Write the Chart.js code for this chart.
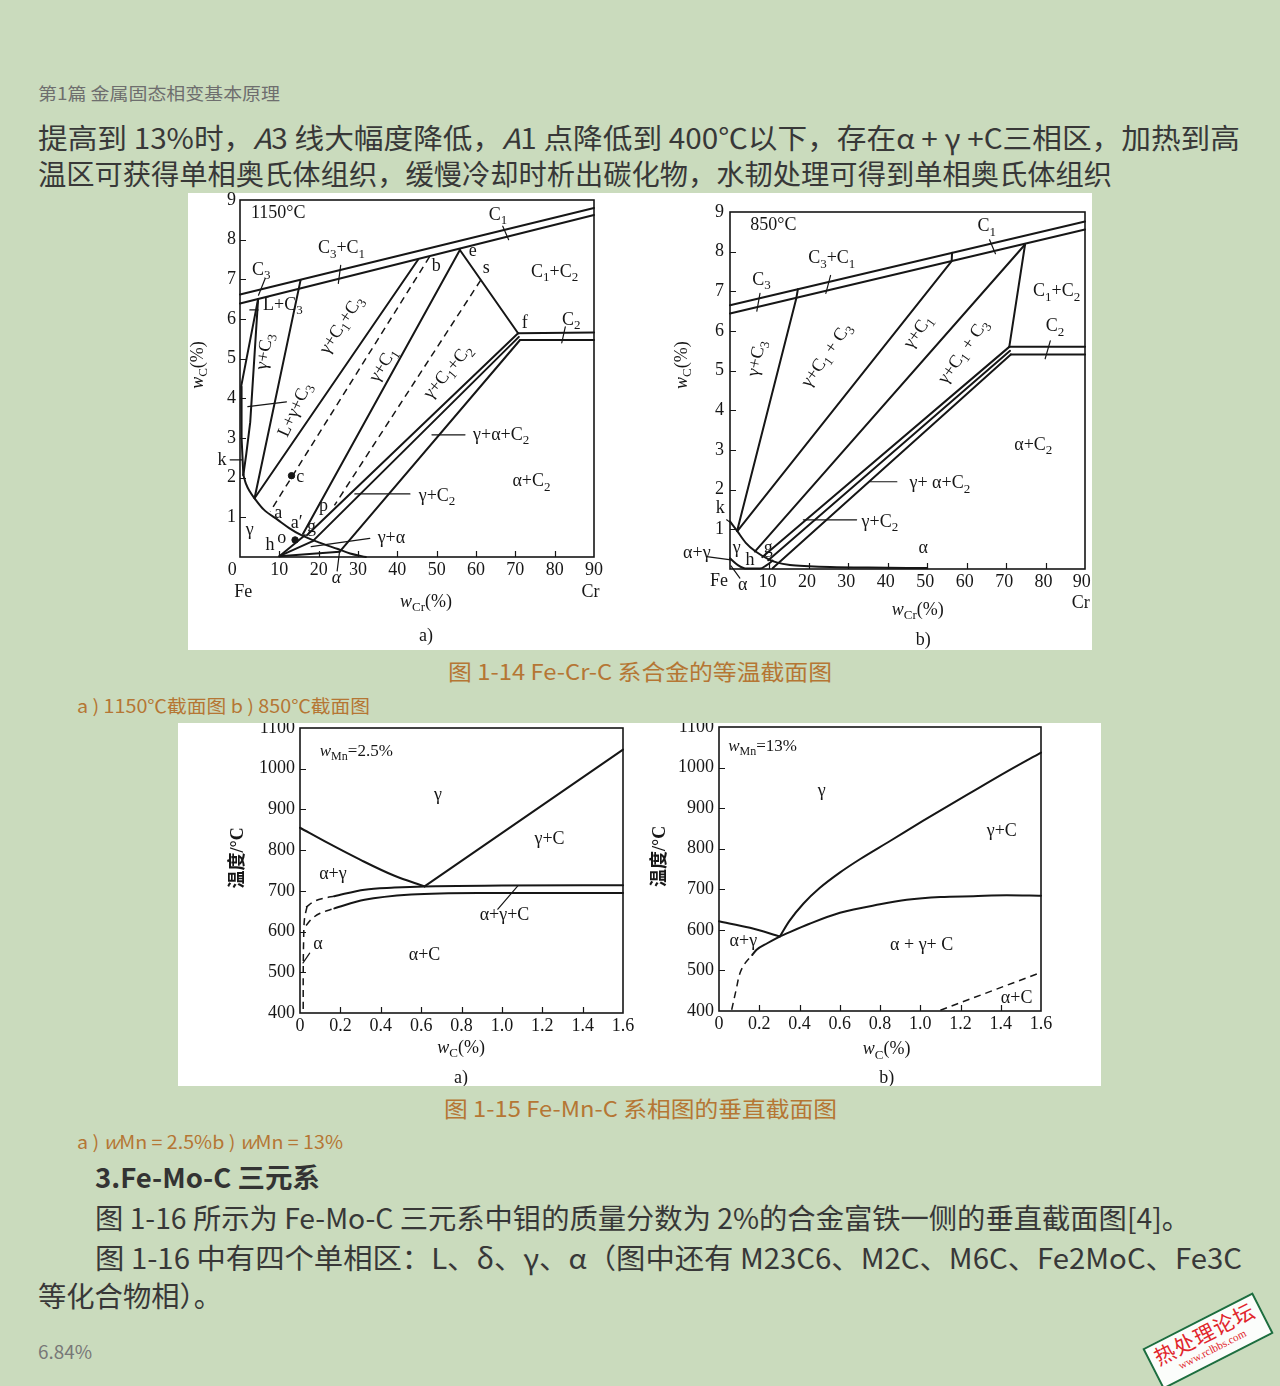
<!DOCTYPE html>
<html lang="zh">
<head>
  <meta charset="UTF-8" />
  <title>Fe-Cr-C / Fe-Mn-C 相图</title>
  <script src="https://cdn.jsdelivr.net/npm/chart.js"></script>
  <style>
    body {
      margin: 0;
      width: 1280px;
      height: 1386px;
      position: relative;
      overflow: hidden;
      background: #cadbbd;
      font-family: "Noto Sans CJK SC", "Noto Sans", sans-serif;
    }
    .t {
      position: absolute;
      white-space: nowrap;
      line-height: 1;
      transform-origin: 0 50%;
    }
    .body { color: #383838; font-size: 28px; }
    .cap { color: #b57634; }
    .panel { position: absolute; background: #fff; }
    canvas { position: absolute; }
    #stamp {
      position: absolute;
      left: 1146px;
      top: 1318px;
      width: 120px;
      height: 42px;
      border: 2px solid #1d6e3e;
      background: #fbfdfb;
      transform: rotate(-27deg);
      color: #e1262c;
      text-align: center;
      line-height: 1;
    }
    #stamp .s1 { font-size: 21px; margin-top: 2px; letter-spacing: 1px; }
    #stamp .s2 { font-size: 11px; font-family: "Liberation Serif", serif; margin-top: 2px; }
  </style>
</head>
<body>

  <div class="t" style="left:38px; top:84px; font-size:17px; color:#6e6e6e;" data-w="242">第1篇 金属固态相变基本原理</div>
  <div class="t body" style="left:38px; top:123px;" data-w="1202">提高到 13%时，<i>A</i>3 线大幅度降低，<i>A</i>1 点降低到 400℃以下，存在α + γ +C三相区，加热到高</div>
  <div class="t body" style="left:38px; top:159px;" data-w="1074">温区可获得单相奥氏体组织，缓慢冷却时析出碳化物，水韧处理可得到单相奥氏体组织</div>

  <div class="panel" style="left:188px; top:193px; width:904px; height:457px;"></div>
  <canvas id="chartA" width="452" height="461" style="left:188px; top:189px;"></canvas>
  <canvas id="chartB" width="452" height="455" style="left:640px; top:195px;"></canvas>

  <div class="t cap" style="left:448px; top:659px; font-size:22px;" data-w="384">图 1-14 Fe-Cr-C 系合金的等温截面图</div>
  <div class="t cap" style="left:77px; top:696px; font-size:18px;" data-w="293">a ) 1150℃截面图 b ) 850℃截面图</div>

  <div class="panel" style="left:178px; top:723px; width:923px; height:363px;"></div>
  <canvas id="chartC" width="462" height="363" style="left:178px; top:723px;"></canvas>
  <canvas id="chartD" width="461" height="363" style="left:640px; top:723px;"></canvas>

  <div class="t cap" style="left:444px; top:1096px; font-size:22px;" data-w="393">图 1-15 Fe-Mn-C 系相图的垂直截面图</div>
  <div class="t cap" style="left:77px; top:1132px; font-size:18px;" data-w="266">a ) <i>w</i>Mn = 2.5%b ) <i>w</i>Mn = 13%</div>

  <div class="t" style="left:95px; top:1163px; font-size:27px; font-weight:700; color:#333;" data-w="225">3.Fe-Mo-C 三元系</div>
  <div class="t body" style="left:95px; top:1203px;" data-w="1095">图 1-16 所示为 Fe-Mo-C 三元系中钼的质量分数为 2%的合金富铁一侧的垂直截面图[4]。</div>
  <div class="t body" style="left:95px; top:1243px;" data-w="1147">图 1-16 中有四个单相区：L、δ、γ、α（图中还有 M23C6、M2C、M6C、Fe2MoC、Fe3C</div>
  <div class="t body" style="left:38px; top:1281px;" data-w="184">等化合物相）。</div>

  <div class="t" style="left:38px; top:1342px; font-size:18px; color:#777;" data-w="54">6.84%</div>

  <div id="stamp"><div class="s1">热处理论坛</div><div class="s2">www.rclbbs.com</div></div>

  <script>
    const INK = "#161616";
    const SERIF = '"Liberation Serif", "DejaVu Serif", "Noto Sans CJK SC", serif';

    // ---- Fe-Cr-C, 1150 °C (x = wCr %, y = wC %) ----
    const crMarksX = [10, 20, 30, 40, 50, 60, 70, 80];
    const crMarksY = [1, 2, 3, 4, 5, 6, 7, 8];
    const crLabelValsA = [-2, 10, 20, 30, 40, 50, 60, 70, 80, 90];
    const crLabelsA = ["0", "10", "20", "30", "40", "50", "60", "70", "80", "90"];
    const crLabelValsB = [9.5, 19.5, 29.5, 39.5, 49.5, 59.5, 69.5, 79.5, 89.2];
    const crLabelsB = ["10", "20", "30", "40", "50", "60", "70", "80", "90"];
    const crValsY = [1, 2, 3, 4, 5, 6, 7, 8, 9];
    const crLabelsY = ["1", "2", "3", "4", "5", "6", "7", "8", "9"];

    const a1150BandUpper = [[0, 6.62], [90, 8.8]];
    const a1150BandLower = [[0, 6.39], [90, 8.62]];
    const a1150LiqA = [[4.6, 6.5], [0.3, 4.3], [0.4, 3.0], [0.85, 2.07]];
    const a1150LiqB = [[4.6, 6.5], [2.6, 3.4], [1.6, 2.6], [0.85, 2.07]];
    const a1150Gamma = [[0.85, 2.07], [1.5, 1.85], [2.5, 1.65], [3.7, 1.48], [6, 1.2], [9.7, 0.93], [12.5, 0.73], [15.6, 0.55], [20, 0.37], [24.9, 0.2], [28, 0.09], [32, 0]];
    const a1150C3 = [[15.4, 6.98], [3.7, 1.48]];
    const a1150C1C3 = [[45.3, 7.5], [3.7, 1.48]];
    const a1150E = [[55.9, 7.74], [16, 0.58]];
    const a1150EF = [[55.9, 7.74], [70.7, 5.64]];
    const a1150C2Upper = [[70.7, 5.64], [90, 5.66]];
    const a1150C2Lower = [[71.2, 5.47], [90, 5.47]];
    const a1150F1 = [[70.7, 5.64], [17, 0.55]];
    const a1150F2 = [[70.9, 5.55], [18.5, 0.4]];
    const a1150F3 = [[71.2, 5.47], [25.3, 0.13]];
    const a1150H1 = [[16.5, 0.55], [10, 0.02], [25.3, 0.13]];
    const a1150H2 = [[10, 0.02], [18.5, 0.4]];
    const a1150DashB = [[48.2, 7.57], [7.7, 1.15]];
    const a1150DashS = [[61.2, 6.98], [24, 1.3]];
    const a1150Dots = [[13.1, 2.05], [14.0, 0.43]];
    const a1150Leaders = [
      [[6.4, 7.02], [4.7, 6.6]],
      [[25.6, 7.35], [25.0, 6.9]],
      [[66.8, 8.34], [68.3, 8.0]],
      [[82.7, 5.8], [81.8, 5.4]],
      [[2.5, 6.23], [4.6, 6.23]],
      [[2.0, 3.79], [11.8, 3.91]],
      [[-2.5, 2.45], [0.6, 2.45]],
      [[29.2, 1.59], [43.2, 1.59]],
      [[48.8, 3.08], [57.2, 3.08]],
      [[33.0, 0.47], [18.1, 0.26]],
      [[25.3, 0.13], [24.7, -0.35]]
    ];
    const a1150Notes = [
      ["1150°C", 9.7, 8.66], ["C_1", 65.6, 8.62], ["C_3+C_1", 25.8, 7.78], ["C_3", 5.4, 7.23],
      ["C_1+C_2", 80.0, 7.19], ["b", 49.9, 7.32], ["e", 59.2, 7.70], ["s", 62.6, 7.28],
      ["f", 72.4, 5.89], ["C_2", 84.2, 5.97], ["L+C_3", 10.9, 6.35],
      ["γ+C_3", 6.3, 5.18, -80], ["γ+C_1+C_3", 25.8, 5.85, -57], ["γ+C_1", 36.4, 4.84, -58],
      ["γ+C_1+C_2", 52.9, 4.67, -50], ["L+γ+C_3", 14.0, 3.71, -65],
      ["k", -4.6, 2.45], ["c", 15.3, 2.02], ["a", 9.7, 1.10], ["a′", 14.4, 0.85], ["g", 18.2, 0.76],
      ["p", 21.2, 1.27], ["γ", 2.5, 0.68], ["h", 7.6, 0.30], ["o", 10.6, 0.47],
      ["γ+α", 38.5, 0.47], ["γ+C_2", 50.1, 1.54], ["γ+α+C_2", 66.4, 3.08], ["α+C_2", 74.1, 1.90],
      ["*α*", 24.5, -0.53], ["Fe", 0.8, -0.88], ["Cr", 89.1, -0.88],
      ["*w*_{Cr}(%)", 47.3, -1.13], ["a)", 47.3, -2.0], ["*w*_C(%)", -10.6, 4.84, -90]
    ];

    // ---- Fe-Cr-C, 850 °C ----
    const b850BandUpper = [[0, 6.65], [90, 8.76]];
    const b850BandLower = [[0, 6.44], [90, 8.56]];
    const b850C3 = [[17.2, 7.05], [16.8, 6.82], [1.8, 0.96]];
    const b850C1C3 = [[56.3, 7.97], [56.2, 7.76], [1.9, 0.96]];
    const b850GammaC1 = [[74.8, 8.18], [6.3, 0.44]];
    const b850Corner = [[74.8, 8.18], [70.8, 5.6]];
    const b850C2Upper = [[70.8, 5.6], [90, 5.6]];
    const b850C2Lower = [[71.2, 5.41], [90, 5.41]];
    const b850F1 = [[70.8, 5.6], [8.2, 0.3]];
    const b850F2 = [[71.0, 5.5], [9.7, 0.22]];
    const b850F3 = [[71.2, 5.41], [10.8, 0.02]];
    const b850Gamma = [[0, 1.2], [1.8, 0.96], [4, 0.66], [6.5, 0.44], [9.7, 0.25], [12, 0.16], [15.2, 0.1], [20, 0.07], [25.4, 0.05], [35, 0.035], [50, 0.025]];
    const b850AlphaGamma = [[0, 0.27], [2, 0.1], [4.2, 0.01], [7.6, 0.01], [9.3, 0.1], [10.8, 0.21]];
    const b850Leaders = [
      [[65.8, 8.3], [67.3, 7.95]],
      [[25.5, 7.4], [24.3, 6.95]],
      [[7.6, 6.95], [6.8, 6.5]],
      [[81.2, 5.75], [79.9, 5.3]],
      [[35.5, 2.2], [42.3, 2.2]],
      [[18.6, 1.24], [32.1, 1.24]],
      [[-0.85, 1.24], [0.4, 1.15]],
      [[-5.9, 0.31], [0.25, 0.23]],
      [[0.25, 0.08], [2.5, -0.23]]
    ];
    const b850Notes = [
      ["850°C", 11.0, 8.67], ["C_1", 65.1, 8.63], ["C_3+C_1", 25.8, 7.83], ["C_3", 8.0, 7.29],
      ["C_1+C_2", 82.8, 6.99], ["C_2", 82.4, 6.11],
      ["γ+C_3", 6.8, 5.31, -78], ["γ+C_1 + C_3", 24.5, 5.39, -55], ["γ+C_1", 47.7, 5.98, -55],
      ["γ+C_1 + C_3", 59.2, 5.48, -55],
      ["α+C_2", 76.9, 3.13], ["γ+ α+C_2", 53.2, 2.16], ["γ+C_2", 38.0, 1.19], ["α", 49.0, 0.52],
      ["k", -2.5, 1.53], ["γ", 1.7, 0.52], ["h", 5.1, 0.23], ["g", 9.7, 0.52], ["α+γ", -8.4, 0.40],
      ["Fe", -2.8, -0.32], ["α", 3.2, -0.40], ["Cr", 88.9, -0.86],
      ["*w*_{Cr}(%)", 47.6, -1.03], ["b)", 49.0, -1.79], ["*w*_C(%)", -12.2, 5.14, -90]
    ];

    // ---- Fe-Mn-C vertical sections (x = wC %, y = °C) ----
    const mnMarksX = [0.2, 0.4, 0.6, 0.8, 1.0, 1.2, 1.4];
    const mnMarksY = [500, 600, 700, 800, 900, 1000];
    const mnValsX = [0, 0.2, 0.4, 0.6, 0.8, 1.0, 1.2, 1.4, 1.6];
    const mnLabelsX = ["0", "0.2", "0.4", "0.6", "0.8", "1.0", "1.2", "1.4", "1.6"];
    const mnValsY = [400, 500, 600, 700, 800, 900, 1000, 1100];
    const mnLabelsY = ["400", "500", "600", "700", "800", "900", "1000", "1100"];

    const c25A3 = [[0, 855], [0.14, 817], [0.3, 776], [0.468, 737], [0.617, 711]];
    const c25Acm = [[0.617, 711], [1.6, 1047]];
    const c25A1Upper = [[0.17, 687], [0.32, 703], [0.468, 708], [0.617, 711], [1.0, 713], [1.6, 714]];
    const c25A1UpperDash = [[0.03, 660], [0.07, 674], [0.12, 682], [0.17, 687]];
    const c25A1Lower = [[0.17, 657], [0.32, 678], [0.551, 691], [0.881, 695], [1.6, 695]];
    const c25A1LowerDash = [[0.03, 615], [0.06, 632], [0.1, 645], [0.17, 657]];
    const c25AlphaDash = [[0.035, 662], [0.022, 630], [0.018, 580], [0.016, 500], [0.016, 400]];
    const c25Leaders = [[[0.048, 547], [0.015, 523]], [[0.98, 655], [1.08, 713]]];
    const c25Notes = [
      ["*w*_{Mn}=2.5%", 0.098, 1043, 0, "left"], ["γ", 0.683, 936], ["γ+C", 1.236, 826],
      ["α+γ", 0.163, 740], ["α+γ+C", 1.013, 639], ["α+C", 0.617, 543], ["α", 0.089, 568],
      ["*w*_C(%)", 0.798, 314], ["a)", 0.798, 240], ["温度/°C", -0.307, 781, -90]
    ];

    const d13A3 = [[0, 621], [0.154, 605], [0.303, 584]];
    const d13Acm = [[0.303, 584], [0.35, 622], [0.42, 665], [0.5, 703], [0.6, 741], [0.7, 774], [0.85, 819], [1.015, 869], [1.264, 942], [1.43, 990], [1.6, 1037]];
    const d13A1 = [[0.303, 584], [0.45, 615], [0.601, 642], [0.8, 663], [0.933, 674], [1.1, 681], [1.264, 683], [1.43, 685], [1.6, 684]];
    const d13Low = [[0.165, 538], [0.187, 551], [0.24, 567], [0.303, 584]];
    const d13LowDash = [[0.063, 403], [0.085, 452], [0.104, 493], [0.13, 518], [0.165, 538]];
    const d13AcDash = [[1.1, 402], [1.6, 495]];
    const d13Notes = [
      ["*w*_{Mn}=13%", 0.046, 1051, 0, "left"], ["γ", 0.51, 942], ["γ+C", 1.405, 843],
      ["α+γ", 0.121, 572], ["α + γ+ C", 1.007, 561], ["α+C", 1.479, 432],
      ["*w*_C(%)", 0.833, 305], ["b)", 0.833, 235], ["温度/°C", -0.293, 781, -90]
    ];

    // ---------- helpers ----------
    function pts(list) {
      return list.map(p => ({ x: p[0], y: p[1] }));
    }
    function solid(list, w) {
      return { data: pts(list), showLine: true, borderColor: INK, borderWidth: w || 2, pointRadius: 0,
        fill: false, clip: false, tension: 0, borderCapStyle: "round", borderJoinStyle: "round" };
    }
    // x-sorted smooth curve
    function curve(list, w) {
      return Object.assign(solid(list, w), { cubicInterpolationMode: "monotone" });
    }
    function dashed(list, smooth) {
      const d = Object.assign(solid(list, 1.5), { borderDash: [7, 5], borderCapStyle: "butt" });
      if (smooth) d.tension = 0.35;
      return d;
    }
    function leader(list) {
      return solid(list, 1.2);
    }
    function dots(list) {
      return { data: pts(list), showLine: false, pointRadius: 3.2, pointBackgroundColor: INK, pointBorderColor: INK, clip: false };
    }

    // tiny rich text: _x or _{xx} = subscript, *...* = italic
    function rich(ctx, str, cx, cy, rot, size, align) {
      const segs = [];
      let i = 0, italic = false;
      while (i < str.length) {
        const ch = str[i];
        if (ch === "*") { italic = !italic; i++; continue; }
        if (ch === "_") {
          let s;
          if (str[i + 1] === "{") { const j = str.indexOf("}", i); s = str.slice(i + 2, j); i = j + 1; }
          else { s = str[i + 1]; i += 2; }
          segs.push({ s, sub: true, italic: false });
          continue;
        }
        const last = segs[segs.length - 1];
        if (last && !last.sub && last.italic === italic) last.s += ch;
        else segs.push({ s: ch, sub: false, italic });
        i++;
      }
      const cjk = /[\u4e00-\u9fff]/.test(str);
      const fontFor = g => (g.italic ? "italic " : "") + (cjk ? "bold " : "") +
        (g.sub ? Math.round(size * 0.7) : size) + "px " + SERIF;
      let w = 0;
      segs.forEach(g => { ctx.font = fontFor(g); g.w = ctx.measureText(g.s).width; w += g.w; });
      ctx.save();
      ctx.translate(cx, cy);
      ctx.rotate(rot * Math.PI / 180);
      ctx.textBaseline = "middle";
      ctx.textAlign = "left";
      let x = align === "left" ? 0 : -w / 2;
      segs.forEach(g => {
        ctx.font = fontFor(g);
        ctx.fillText(g.s, x, g.sub ? size * 0.32 : 0);
        x += g.w;
      });
      ctx.restore();
    }

    function framePlugin(fig) {
      return {
        id: "frame",
        afterDraw(chart) {
          const ctx = chart.ctx, a = chart.chartArea, sx = chart.scales.x, sy = chart.scales.y;
          ctx.save();
          ctx.strokeStyle = INK;
          ctx.lineWidth = 1.6;
          ctx.strokeRect(a.left, a.top, a.right - a.left, a.bottom - a.top);
          ctx.lineWidth = 1.2;
          ctx.beginPath();
          fig.marksX.forEach(v => {
            const p = Math.round(sx.getPixelForValue(v)) + 0.5;
            ctx.moveTo(p, a.bottom); ctx.lineTo(p, a.bottom - 6);
          });
          fig.marksY.forEach(v => {
            const p = Math.round(sy.getPixelForValue(v)) + 0.5;
            ctx.moveTo(a.left, p); ctx.lineTo(a.left + 6, p);
          });
          ctx.stroke();

          ctx.fillStyle = INK;
          ctx.font = "18px " + SERIF;
          ctx.textBaseline = "middle";
          ctx.textAlign = "center";
          fig.labelsX.forEach((t, i) => ctx.fillText(t, sx.getPixelForValue(fig.valsX[i]), a.bottom + 13));
          ctx.textAlign = "right";
          fig.labelsY.forEach((t, i) => ctx.fillText(t, a.left - fig.dy, sy.getPixelForValue(fig.valsY[i])));

          fig.notes.forEach(n => rich(ctx, n[0], sx.getPixelForValue(n[1]), sy.getPixelForValue(n[2]),
            n[3] || 0, n[0].indexOf("Mn") >= 0 ? 17 : 18, n[4] || "center"));
          ctx.restore();
        }
      };
    }

    function makeFigure(id, pad, xr, yr, datasets, fig) {
      return new Chart(document.getElementById(id), {
        type: "scatter",
        data: { datasets },
        options: {
          responsive: false,
          animation: false,
          devicePixelRatio: 1,
          events: [],
          layout: { padding: pad },
          plugins: { legend: { display: false }, tooltip: { enabled: false } },
          scales: {
            x: { type: "linear", min: xr[0], max: xr[1], display: false },
            y: { type: "linear", min: yr[0], max: yr[1], display: false }
          }
        },
        plugins: [framePlugin(fig)]
      });
    }

    // Figure 1-14 a)
    makeFigure("chartA", { left: 52, top: 11, right: 46, bottom: 93 }, [0, 90], [0, 9], [
      ...[a1150BandUpper, a1150BandLower, a1150LiqA, a1150LiqB, a1150C3, a1150C1C3, a1150E, a1150EF,
        a1150C2Upper, a1150C2Lower, a1150F1, a1150F2, a1150F3, a1150H1, a1150H2].map(p => solid(p)),
      curve(a1150Gamma),
      dashed(a1150DashB), dashed(a1150DashS),
      ...a1150Leaders.map(leader),
      dots(a1150Dots)
    ], {
      marksX: crMarksX, marksY: crMarksY, valsX: crLabelValsA, labelsX: crLabelsA,
      valsY: crValsY, labelsY: crLabelsY, dy: 4, notes: a1150Notes
    });

    // Figure 1-14 b)
    makeFigure("chartB", { left: 90, top: 17, right: 7, bottom: 81 }, [0, 90], [0, 9], [
      ...[b850BandUpper, b850BandLower, b850C3, b850C1C3, b850GammaC1, b850Corner, b850C2Upper,
        b850C2Lower, b850F1, b850F2, b850F3].map(p => solid(p)),
      curve(b850Gamma), curve(b850AlphaGamma),
      ...b850Leaders.map(leader)
    ], {
      marksX: crMarksX, marksY: crMarksY, valsX: crLabelValsB, labelsX: crLabelsB,
      valsY: crValsY, labelsY: crLabelsY, dy: 6, notes: b850Notes
    });

    // Figure 1-15 a)
    makeFigure("chartC", { left: 122, top: 5, right: 17, bottom: 73 }, [0, 1.6], [400, 1100], [
      curve(c25A3), solid(c25Acm), curve(c25A1Upper), curve(c25A1Lower),
      dashed(c25A1UpperDash, true), dashed(c25A1LowerDash, true), dashed(c25AlphaDash, true),
      ...c25Leaders.map(leader)
    ], {
      marksX: mnMarksX, marksY: mnMarksY, valsX: mnValsX, labelsX: mnLabelsX,
      valsY: mnValsY, labelsY: mnLabelsY, dy: 5, notes: c25Notes
    });

    // Figure 1-15 b)
    makeFigure("chartD", { left: 79, top: 4, right: 60, bottom: 75 }, [0, 1.6], [400, 1100], [
      curve(d13A3), curve(d13Acm), curve(d13A1), curve(d13Low),
      dashed(d13LowDash, true), dashed(d13AcDash)
    ], {
      marksX: mnMarksX, marksY: mnMarksY, valsX: mnValsX, labelsX: mnLabelsX,
      valsY: mnValsY, labelsY: mnLabelsY, dy: 5, notes: d13Notes
    });

    // squeeze page text lines to the widths of the original (its font is narrower)
    function fitLines() {
      document.querySelectorAll(".t").forEach(el => {
        el.style.transform = "none";
        const w = el.getBoundingClientRect().width;
        const target = +el.dataset.w;
        if (w > 0 && target) el.style.transform = "scaleX(" + (target / w).toFixed(4) + ")";
      });
    }
    fitLines();
    if (document.fonts) document.fonts.ready.then(fitLines);
  </script>
</body>
</html>
